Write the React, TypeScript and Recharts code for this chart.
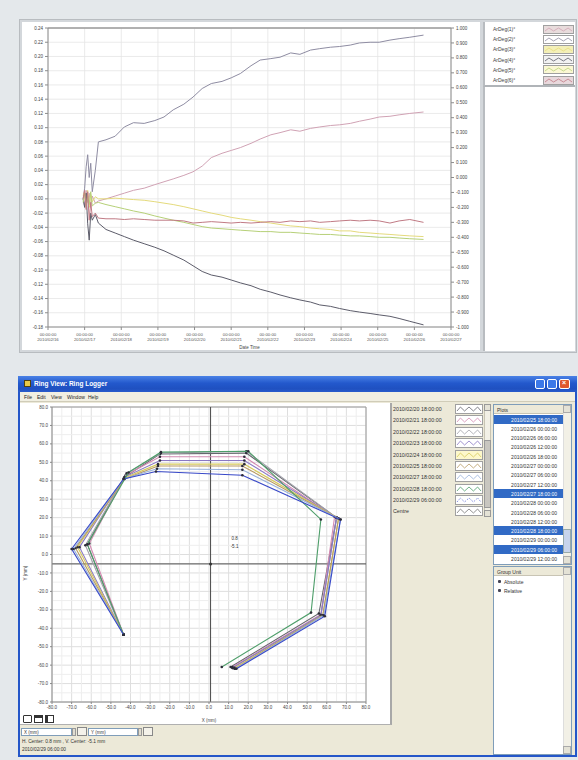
import React from 'react';
import {
  LineChart, Line, XAxis, YAxis, CartesianGrid, ReferenceLine,
  ScatterChart, Scatter, ReferenceDot,
} from 'recharts';

// ---------------- Top chart data ----------------
const hours = [
  23, 24, 25, 26, 27, 28, 29, 31, 33, 38,
  44, 50, 56, 63, 70, 76, 82, 89, 95, 101,
  107, 114, 120, 126, 133, 139, 146, 152, 159, 165,
  172, 178, 185, 191, 198, 204, 211, 217, 224, 230,
  237, 246,
];
const arDeg1 = [
  0.000, -0.010, 0.012, -0.005, 0.008, -0.012, 0.004, -0.006, -0.003, 0.000,
  0.004, 0.008, 0.012, 0.015, 0.020, 0.024, 0.028, 0.033, 0.038, 0.046,
  0.058, 0.064, 0.068, 0.072, 0.078, 0.084, 0.090, 0.093, 0.097, 0.095,
  0.099, 0.101, 0.103, 0.104, 0.106, 0.109, 0.112, 0.115, 0.116, 0.118,
  0.120, 0.122,
];
const arDeg2 = [
  0.000, 0.015, 0.045, 0.062, 0.030, 0.050, 0.010, 0.040, 0.080, 0.083,
  0.088, 0.101, 0.107, 0.106, 0.110, 0.115, 0.125, 0.133, 0.143, 0.155,
  0.162, 0.165, 0.170, 0.176, 0.187, 0.195, 0.197, 0.199, 0.205, 0.203,
  0.209, 0.211, 0.213, 0.214, 0.216, 0.219, 0.220, 0.220, 0.223, 0.225,
  0.227, 0.230,
];
const arDeg3 = [
  0.005, 0.010, -0.008, 0.012, -0.012, 0.006, -0.004, 0.003, 0.000, 0.000,
  0.001, 0.000, -0.001, -0.002, -0.004, -0.006, -0.008, -0.011, -0.014, -0.017,
  -0.020, -0.023, -0.026, -0.028, -0.030, -0.032, -0.034, -0.036, -0.038, -0.039,
  -0.041, -0.042, -0.043, -0.045, -0.045, -0.047, -0.048, -0.049, -0.050, -0.051,
  -0.052, -0.053,
];
const arDeg4 = [
  0.000, -0.012, 0.008, -0.035, -0.058, -0.020, -0.030, -0.022, -0.034, -0.043,
  -0.048, -0.053, -0.058, -0.063, -0.068, -0.073, -0.079, -0.086, -0.094, -0.102,
  -0.107, -0.110, -0.114, -0.118, -0.122, -0.127, -0.131, -0.135, -0.139, -0.142,
  -0.145, -0.149, -0.151, -0.154, -0.157, -0.159, -0.161, -0.163, -0.165, -0.168,
  -0.172, -0.177,
];
const arDeg5 = [
  -0.005, 0.008, -0.012, 0.004, -0.008, 0.010, -0.010, -0.006, -0.005, -0.008,
  -0.011, -0.014, -0.017, -0.020, -0.024, -0.027, -0.030, -0.033, -0.036, -0.039,
  -0.041, -0.042, -0.043, -0.044, -0.045, -0.046, -0.046, -0.047, -0.047, -0.048,
  -0.049, -0.050, -0.050, -0.051, -0.052, -0.052, -0.053, -0.054, -0.054, -0.055,
  -0.056, -0.057,
];
const arDeg6 = [
  0.000, 0.012, -0.015, 0.010, -0.030, -0.005, -0.025, -0.020, -0.027, -0.028,
  -0.028, -0.029, -0.028, -0.029, -0.030, -0.030, -0.030, -0.031, -0.034, -0.033,
  -0.032, -0.033, -0.034, -0.033, -0.034, -0.033, -0.032, -0.033, -0.031, -0.032,
  -0.031, -0.033, -0.032, -0.031, -0.030, -0.031, -0.030, -0.031, -0.034, -0.031,
  -0.029, -0.033,
];

const seriesNames = ['ArDeg(1)°', 'ArDeg(2)°', 'ArDeg(3)°', 'ArDeg(4)°', 'ArDeg(5)°', 'ArDeg(6)°'];
const seriesValues = [arDeg1, arDeg2, arDeg3, arDeg4, arDeg5, arDeg6];
const seriesColors = ['#d0a2b4', '#8e8ca2', '#e4da7c', '#5c5c6a', '#b6d078', '#c07a84'];
const swatchFills = ['#e8dcdc', '#ffffff', '#f4f0b8', '#f2f2f2', '#fbf8d4', '#e8d8dc'];

const xTickHours = [0, 24, 48, 72, 96, 120, 144, 168, 192, 216, 240, 264];
const xTickDates = [
  '2010/02/16', '2010/02/17', '2010/02/18', '2010/02/19', '2010/02/20', '2010/02/21',
  '2010/02/22', '2010/02/23', '2010/02/24', '2010/02/25', '2010/02/26', '2010/02/27',
];
const xTickTime = '00:00:00';
const leftTicks = [
  0.24, 0.22, 0.2, 0.18, 0.16, 0.14, 0.12, 0.1, 0.08, 0.06, 0.04,
  0.02, 0, -0.02, -0.04, -0.06, -0.08, -0.1, -0.12, -0.14, -0.16, -0.18,
];
const rightTicks = [
  1, 0.9, 0.8, 0.7, 0.6, 0.5, 0.4, 0.3, 0.2, 0.1, 0,
  -0.1, -0.2, -0.3, -0.4, -0.5, -0.6, -0.7, -0.8, -0.9, -1,
];

const topData = hours.map((h, i) => {
  const row: any = { h };
  seriesValues.forEach((vals, k) => { row['s' + k] = vals[i]; });
  return row;
});

// ---------------- Ring view data (mm) ----------------
const ringTicks = [-80, -70, -60, -50, -40, -30, -20, -10, 0, 10, 20, 30, 40, 50, 60, 70, 80];
const ringMinor = [-75, -65, -55, -45, -35, -25, -15, -5, 5, 15, 25, 35, 45, 55, 65, 75];

const ring0220 = [[-43.5, -43.5], [-62, 5.5], [-43, 42], [-25, 54.5], [19, 55], [65, 20], [56, -32], [11, -61]];
const ring0221 = [[-43.5, -43.5], [-61, 6], [-42.5, 43], [-25, 53], [18, 53], [64, 20.5], [57, -32.5], [12, -61]];
const ring0222 = [[-43.5, -43.5], [-63, 5], [-42, 44], [-24.5, 55], [19, 56], [65, 20], [57, -33], [12, -61.5]];
const ring0223 = [[-43.5, -43.5], [-66, 4], [-43, 42], [-25, 51], [18, 51], [65, 20], [57, -33], [12, -61.5]];
const ring0224 = [[-43.5, -43.5], [-67, 4], [-43, 41.5], [-26, 49], [18, 49], [66, 19.5], [58, -33], [13, -61.5]];
const ring0225 = [[-43.5, -43.5], [-68, 3.5], [-43, 41], [-26, 48], [17, 48], [66, 19.5], [58, -33], [13, -62]];
const ring0227 = [[-43.5, -43.5], [-69, 3], [-43.5, 41], [-26.5, 46.5], [17, 46], [67, 19], [58.5, -33], [13.5, -62]];
const ring0228 = [[-43.5, -43.5], [-62, 5.5], [-41, 44.5], [-24.5, 55.5], [20, 56], [57, 19], [52, -31.5], [6.5, -61]];
const ring0229 = [[-43.5, -43.5], [-70, 3], [-43.5, 41], [-27, 45], [17, 43], [67, 19], [59, -33.5], [14, -62]];

const ringCurves = [ring0220, ring0221, ring0222, ring0223, ring0224, ring0225, ring0227, ring0228, ring0229];
const ringDates = [
  '2010/02/20 18:00:00', '2010/02/21 18:00:00', '2010/02/22 18:00:00', '2010/02/23 18:00:00',
  '2010/02/24 18:00:00', '2010/02/25 18:00:00', '2010/02/27 18:00:00', '2010/02/28 18:00:00',
  '2010/02/29 06:00:00',
];
const ringColors = ['#66666e', '#d48ab2', '#a2a2aa', '#8a78c4', '#d6ca5c', '#b89a62', '#98b2da', '#4e9e6a', '#3848c8'];
const centerH = 0.8;
const centerV = -5.1;

const plotTimes = [
  '2010/02/25 18:00:00', '2010/02/26 00:00:00', '2010/02/26 06:00:00', '2010/02/26 12:00:00',
  '2010/02/26 18:00:00', '2010/02/27 00:00:00', '2010/02/27 06:00:00', '2010/02/27 12:00:00',
  '2010/02/27 18:00:00', '2010/02/28 00:00:00', '2010/02/28 06:00:00', '2010/02/28 12:00:00',
  '2010/02/28 18:00:00', '2010/02/29 00:00:00', '2010/02/29 06:00:00', '2010/02/29 12:00:00',
];
const selectedPlots = [0, 8, 12, 14];
const menuItems = ['File', 'Edit', 'View', 'Window', 'Help'];
const groupUnits = ['Absolute', 'Relative'];

// ---------------- helpers ----------------
const abs = (l: number, t: number, w: number, h: number, extra: any = {}) => ({
  position: 'absolute' as const, left: l, top: t, width: w, height: h, boxSizing: 'border-box' as const, ...extra,
});

function Swatch({ color, bg, dotted, w = 28, h = 8 }: any) {
  const pts = `1,${h - 2} ${w * 0.17},2 ${w * 0.33},${h - 2} ${w * 0.5},2 ${w * 0.67},${h - 2} ${w * 0.83},2 ${w - 1},${h - 2}`;
  return (
    <svg width={w} height={h} style={{ display: 'block', background: bg, outline: '1px solid #a0a0a0' }}>
      <polyline points={pts} fill="none" stroke={color} strokeWidth={0.8} strokeDasharray={dotted ? '1 1.4' : undefined} />
    </svg>
  );
}

const DateTick = (props: any) => {
  const { x, y, payload } = props;
  const i = xTickHours.indexOf(payload.value);
  return (
    <g>
      <text x={x} y={y + 4} textAnchor="middle" fontSize={4.3} fill="#555">{xTickTime}</text>
      <text x={x} y={y + 9} textAnchor="middle" fontSize={4.3} fill="#555">{xTickDates[i]}</text>
    </g>
  );
};

const ringDot = (p: any) => <circle cx={p.cx} cy={p.cy} r={1.3} fill="#2c2c38" />;

const tiny = { fontSize: 4.5, fill: '#444', fontFamily: '"Liberation Sans", Arial, sans-serif' };

export default function App() {
  return (
    <div style={{
      position: 'fixed', left: 0, top: 0, width: 578, height: 760, background: '#e4e8eb',
      fontFamily: '"Liberation Sans", Arial, sans-serif', overflow: 'hidden', color: '#333',
    }}>
      {/* ============ TOP PANEL ============ */}
      <div style={abs(19, 19, 558, 334, { background: '#d3d7db', border: '1px solid #b8bcc0' })} />
      <div style={abs(22, 22, 458, 328, { background: '#ffffff' })}>
        <LineChart width={458} height={328} data={topData} margin={{ top: 6, right: 0, bottom: 0, left: 0 }}>
          <CartesianGrid yAxisId="L" stroke="#e4e4e4" strokeWidth={0.8} />
          <XAxis
            dataKey="h" type="number" domain={[0, 264]} ticks={xTickHours} interval={0}
            tick={<DateTick />} height={23} stroke="#8c8c8c" tickSize={3}
            label={{ value: 'Date Time', position: 'insideBottom', offset: 1, ...tiny }}
          />
          <YAxis
            yAxisId="L" domain={[-0.18, 0.24]} ticks={leftTicks} interval={0} width={26}
            tickFormatter={(v: number) => v.toFixed(2)} tick={tiny} stroke="#8c8c8c" tickSize={3} allowDataOverflow
          />
          <YAxis
            yAxisId="R" orientation="right" domain={[-1, 1]} ticks={rightTicks} interval={0} width={29}
            tickFormatter={(v: number) => v.toFixed(3)} tick={tiny} stroke="#8c8c8c" tickSize={3} allowDataOverflow
          />
          <ReferenceLine yAxisId="L" y={0.24} stroke="#9a9a9a" strokeWidth={1.5} />
          {seriesNames.map((n, k) => (
            <Line
              key={n} yAxisId="L" dataKey={'s' + k} name={n} stroke={seriesColors[k]} strokeWidth={1}
              dot={false} type="linear" isAnimationActive={false}
            />
          ))}
        </LineChart>
      </div>
      {/* legend */}
      <div style={abs(483, 22, 92, 65, { background: '#fff', borderLeft: '2px solid #b8bcc0', borderBottom: '2px solid #b0b4b8' })}>
        {seriesNames.map((n, k) => (
          <div key={n} style={abs(0, 2 + k * 10.2, 90, 10)}>
            <div style={{ position: 'absolute', left: 8, top: 2, fontSize: 5, color: '#444', whiteSpace: 'nowrap' }}>{n}</div>
            <div style={{ position: 'absolute', left: 59, top: 1.5 }}>
              <Swatch color={seriesColors[k]} bg={swatchFills[k]} w={29} h={7} />
            </div>
          </div>
        ))}
      </div>
      <div style={abs(483, 87, 92, 264, { background: '#fff', borderLeft: '2px solid #b8bcc0' })} />

      {/* ============ BOTTOM WINDOW ============ */}
      <div style={abs(18, 376, 559, 381, { background: '#ece9d8', border: '2px solid #2456c8', borderTop: 'none' })} />
      {/* title bar */}
      <div style={abs(18, 376, 559, 16, { background: 'linear-gradient(#4a82e6, #2358cc 45%, #1f50c0 80%, #2a5ccc)' })}>
        <div style={abs(6, 4, 7, 7, { background: '#e8c848', border: '1px solid #504010' })} />
        <div style={{ position: 'absolute', left: 16, top: 4, fontSize: 6.5, fontWeight: 'bold', color: '#fff', whiteSpace: 'nowrap' }}>
          Ring View: Ring Logger
        </div>
        <div style={abs(517, 3, 10, 10, { background: '#3c78e8', border: '1px solid #fff', borderRadius: 2 })} />
        <div style={abs(529, 3, 10, 10, { background: '#3c78e8', border: '1px solid #fff', borderRadius: 2 })} />
        <div style={abs(541, 3, 11, 10, { background: '#e0582e', border: '1px solid #fff', borderRadius: 2 })}>
          <div style={{ position: 'absolute', left: 2, top: -1, fontSize: 7, color: '#fff', fontWeight: 'bold' }}>×</div>
        </div>
      </div>
      {/* menu bar */}
      <div style={abs(20, 392, 555, 10, { background: '#f1efe2', borderBottom: '1px solid #d0ccb8' })}>
        {menuItems.map((m, i) => (
          <div key={m} style={{ position: 'absolute', left: [4, 17, 31, 47, 68][i], top: 2, fontSize: 5, color: '#222' }}>{m}</div>
        ))}
      </div>

      {/* chart white area */}
      <div style={abs(20, 403, 372, 322, { background: '#fff', borderRight: '2px solid #a8a8a8', borderBottom: '1px solid #b0b0b0' })} />
      <div style={abs(21, 403, 370, 321)}>
        <ScatterChart width={370} height={321} margin={{ top: 4, right: 25, bottom: 0, left: 0 }}>
          {ringMinor.map((v) => <ReferenceLine key={'mx' + v} x={v} stroke="#eeeeee" />)}
          {ringMinor.map((v) => <ReferenceLine key={'my' + v} y={v} stroke="#eeeeee" />)}
          <CartesianGrid stroke="#dedede" />
          <XAxis
            type="number" dataKey="x" domain={[-80, 80]} ticks={ringTicks} interval={0} height={22}
            tickFormatter={(v: number) => v.toFixed(1)} tick={tiny} stroke="#888" tickSize={2}
            label={{ value: 'X (mm)', position: 'insideBottom', offset: 2, ...tiny }}
          />
          <YAxis
            type="number" dataKey="y" domain={[-80, 80]} ticks={ringTicks} interval={0} width={31}
            tickFormatter={(v: number) => v.toFixed(1)} tick={tiny} stroke="#888" tickSize={2}
            label={{ value: 'Y (mm)', angle: -90, position: 'insideLeft', offset: 4, dy: 26, ...tiny }}
          />
          <ReferenceLine x={80} stroke="#9a9a9a" />
          <ReferenceLine y={80} stroke="#9a9a9a" />
          <ReferenceLine x={centerH} stroke="#4a4a4a" />
          <ReferenceLine y={centerV} stroke="#4a4a4a" />
          {ringCurves.map((c, i) => (
            <Scatter
              key={ringDates[i]} name={ringDates[i]}
              data={c.map(([x, y]) => ({ x, y }))}
              line={{ stroke: ringColors[i], strokeWidth: 1.1 }} lineType="joint"
              shape={ringDot} fill={ringColors[i]} isAnimationActive={false}
            />
          ))}
          <ReferenceDot x={centerH} y={centerV} r={1.5} fill="#333" stroke="none" />
          <ReferenceDot x={13} y={9} r={0} label={{ value: String(centerH), ...tiny, fill: '#333' }} />
          <ReferenceDot x={13} y={4.3} r={0} label={{ value: String(centerV), ...tiny, fill: '#333' }} />
        </ScatterChart>
      </div>
      {/* toolbar icons */}
      <div style={abs(23, 715, 9, 8, { border: '1.5px solid #333', borderRadius: 1 })} />
      <div style={abs(34, 715, 9, 8, { border: '1.5px solid #333', borderTop: '3px solid #333' })} />
      <div style={abs(45, 715, 9, 8, { border: '1.5px solid #333', borderLeft: '3px solid #333' })} />

      {/* status area */}
      <div style={abs(21, 728, 51, 8, { background: '#fff', border: '1px solid #7f9db9' })}>
        <div style={{ position: 'absolute', left: 2, top: 1, fontSize: 4.5, color: '#333' }}>X (mm)</div>
      </div>
      <div style={abs(72, 728, 4, 8, { background: '#e0ddd0', border: '1px solid #999' })} />
      <div style={abs(77, 727, 10, 9, { background: '#f4f2ea', border: '1px solid #888' })} />
      <div style={abs(88, 728, 50, 8, { background: '#fff', border: '1px solid #7f9db9' })}>
        <div style={{ position: 'absolute', left: 2, top: 1, fontSize: 4.5, color: '#333' }}>Y (mm)</div>
      </div>
      <div style={abs(138, 728, 4, 8, { background: '#e0ddd0', border: '1px solid #999' })} />
      <div style={abs(143, 727, 10, 9, { background: '#f4f2ea', border: '1px solid #888' })} />
      <div style={{ position: 'absolute', left: 22, top: 739, fontSize: 4.8, color: '#333', whiteSpace: 'nowrap' }}>
        {`H. Center: ${centerH} mm , V. Center: ${centerV} mm`}
      </div>
      <div style={{ position: 'absolute', left: 22, top: 747, fontSize: 4.8, color: '#333', whiteSpace: 'nowrap' }}>
        {ringDates[8]}
      </div>

      {/* ring legend */}
      {ringDates.map((d, i) => (
        <div key={d}>
          <div style={{ position: 'absolute', left: 393, top: 406 + i * 11.4, fontSize: 5.3, color: '#333', whiteSpace: 'nowrap' }}>{d}</div>
          <div style={{ position: 'absolute', left: 456, top: 405 + i * 11.4 }}>
            <Swatch color={ringColors[i]} bg={i === 4 ? '#fdf8cc' : '#fff'} dotted={i === 8} w={26} h={8} />
          </div>
        </div>
      ))}
      <div style={{ position: 'absolute', left: 393, top: 508, fontSize: 5.3, color: '#333' }}>Centre</div>
      <div style={{ position: 'absolute', left: 456, top: 507 }}>
        <Swatch color="#777" bg="#fff" w={26} h={8} />
      </div>
      {/* legend scrollbar */}
      <div style={abs(484, 404, 7, 113, { background: '#f2f0e6', border: '1px solid #c8c4b4' })} />
      <div style={abs(484, 404, 7, 7, { background: '#e4e2d6', border: '1px solid #999' })} />
      <div style={abs(484, 440, 7, 68, { background: '#c8c6c0', border: '1px solid #999' })} />
      <div style={abs(484, 510, 7, 7, { background: '#e4e2d6', border: '1px solid #999' })} />

      {/* plots list */}
      <div style={abs(493, 404, 79, 161, { background: '#fff', border: '1px solid #7f9db9', overflow: 'hidden' })}>
        <div style={abs(0, 0, 77, 9, { background: '#ece9d8', borderBottom: '1px solid #c8c4b4' })}>
          <div style={{ position: 'absolute', left: 3, top: 2, fontSize: 5, color: '#333' }}>Plots</div>
        </div>
        {plotTimes.map((t, i) => {
          const sel = selectedPlots.includes(i);
          return (
            <div key={t} style={abs(0, 9.5 + i * 9.3, 69, 9, { background: sel ? '#316ac5' : 'transparent' })}>
              <div style={{ position: 'absolute', right: 6, top: 2, fontSize: 5, color: sel ? '#fff' : '#333', whiteSpace: 'nowrap' }}>{t}</div>
            </div>
          );
        })}
        <div style={abs(69, 0, 8, 159, { background: '#f2f0e6', borderLeft: '1px solid #ddd' })} />
        <div style={abs(69, 0, 8, 8, { background: '#e4e2d6', border: '1px solid #aaa' })} />
        <div style={abs(69, 124, 8, 24, { background: '#c8d4ec', border: '1px solid #9aa' })} />
        <div style={abs(69, 151, 8, 8, { background: '#e4e2d6', border: '1px solid #aaa' })} />
      </div>

      {/* group unit list */}
      <div style={abs(493, 566, 79, 189, { background: '#fff', border: '1px solid #7f9db9', overflow: 'hidden' })}>
        <div style={abs(0, 0, 77, 9, { background: '#ece9d8', borderBottom: '1px solid #c8c4b4' })}>
          <div style={{ position: 'absolute', left: 3, top: 2, fontSize: 5, color: '#333' }}>Group Unit</div>
        </div>
        {groupUnits.map((g, i) => (
          <div key={g} style={abs(0, 10 + i * 9.4, 69, 9)}>
            <div style={abs(4, 3, 3, 3, { background: '#445', borderRadius: 1 })} />
            <div style={{ position: 'absolute', left: 10, top: 2, fontSize: 5, color: '#333' }}>{g}</div>
          </div>
        ))}
        <div style={abs(69, 0, 8, 187, { background: '#f2f0e6', borderLeft: '1px solid #ddd' })} />
        <div style={abs(69, 0, 8, 8, { background: '#e4e2d6', border: '1px solid #aaa' })} />
        <div style={abs(69, 179, 8, 8, { background: '#e4e2d6', border: '1px solid #aaa' })} />
      </div>
    </div>
  );
}
